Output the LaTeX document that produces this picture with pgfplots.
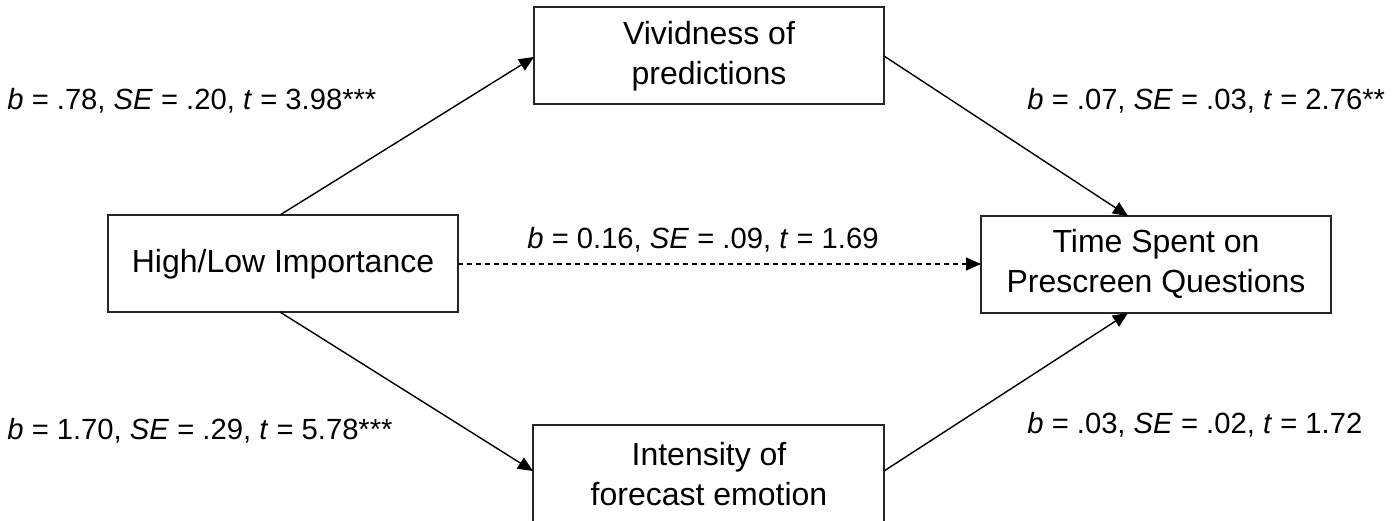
\documentclass[border=0pt]{standalone}
\usepackage{fontspec}
\setmainfont{Liberation Sans}
\usepackage{pgfplots}
\pgfplotsset{compat=1.18}
\usetikzlibrary{arrows.meta}
\begin{document}
\begin{tikzpicture}
\fontsize{14.6}{20}\selectfont
\begin{axis}[
  scale only axis, width=698.5pt, height=260pt,
  xmin=0, xmax=1397, ymin=0, ymax=520, y dir=reverse,
  hide axis, clip=false,
]
% boxes
\draw[line width=0.8pt, black!85] (axis cs:534,7) rectangle (axis cs:884,104);
\draw[line width=0.8pt, black!85] (axis cs:108,215) rectangle (axis cs:458,312);
\draw[line width=0.8pt, black!85] (axis cs:981,216) rectangle (axis cs:1331,313);
\draw[line width=0.8pt, black!85] (axis cs:533,425) rectangle (axis cs:884,523);
% box texts
\node[align=center, font=\fontsize{16}{20}\selectfont] at (axis cs:709,56) {Vividness of\\predictions};
\node[align=center, font=\fontsize{16}{20}\selectfont] at (axis cs:283,264) {High/Low Importance};
\node[align=center, font=\fontsize{16}{20}\selectfont] at (axis cs:1156,264) {Time Spent on\\Prescreen Questions};
\node[align=center, font=\fontsize{16}{20}\selectfont] at (axis cs:709,474) {Intensity of\\forecast emotion};
% arrows
\addplot[line width=0.7pt, -{Triangle[length=7.5pt,width=6.5pt]}] coordinates {(280,215) (534,57)};
\addplot[line width=0.7pt, -{Triangle[length=7.5pt,width=6.5pt]}] coordinates {(884,56) (1128,216)};
\addplot[line width=0.7pt, dash pattern=on 2.5pt off 2pt, -{Triangle[length=7.5pt,width=6.5pt]}] coordinates {(458,264) (981,264)};
\addplot[line width=0.7pt, -{Triangle[length=7.5pt,width=6.5pt]}] coordinates {(280,312) (533,471)};
\addplot[line width=0.7pt, -{Triangle[length=7.5pt,width=6.5pt]}] coordinates {(884,471) (1128,313)};
% labels
\node[anchor=west, inner sep=0pt] at (axis cs:7,101) {\textit{b} = .78, \textit{SE} = .20, \textit{t} = 3.98***};
\node[anchor=west, inner sep=0pt] at (axis cs:1027,101) {\textit{b} = .07, \textit{SE} = .03, \textit{t} = 2.76**};
\node[anchor=west, inner sep=0pt] at (axis cs:527,240) {\textit{b} = 0.16, \textit{SE} = .09, \textit{t} = 1.69};
\node[anchor=west, inner sep=0pt] at (axis cs:7,431) {\textit{b} = 1.70, \textit{SE} = .29, \textit{t} = 5.78***};
\node[anchor=west, inner sep=0pt] at (axis cs:1027,425) {\textit{b} = .03, \textit{SE} = .02, \textit{t} = 1.72};
\end{axis}
\pgfresetboundingbox
\path (current axis.south west) rectangle (current axis.north east);
\end{tikzpicture}
\end{document}
